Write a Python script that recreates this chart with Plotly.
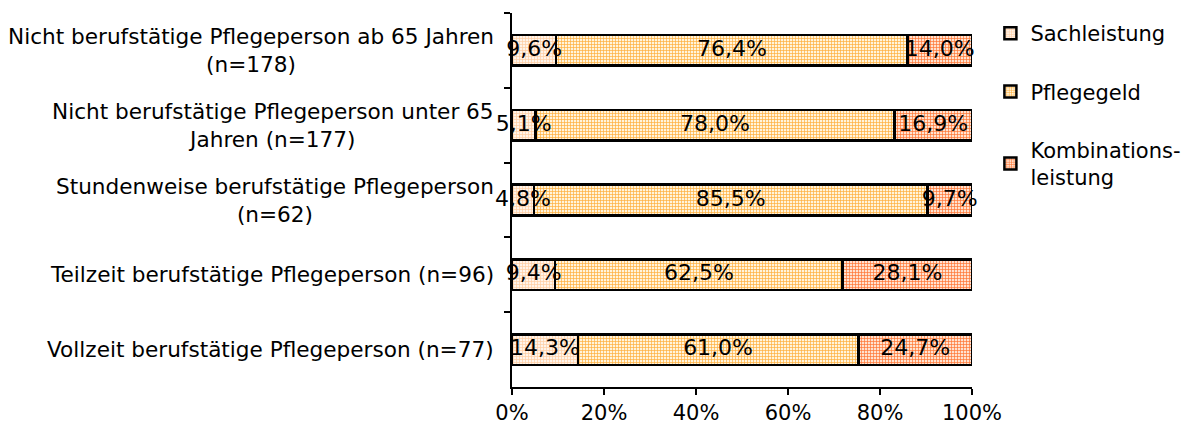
import plotly.graph_objects as go

categories = [
    "Nicht berufstätige Pflegeperson ab 65 Jahren<br>(n=178)",
    "Nicht berufstätige Pflegeperson unter 65<br>Jahren (n=177)",
    "Stundenweise berufstätige Pflegeperson<br>(n=62)",
    "Teilzeit berufstätige Pflegeperson (n=96)",
    "Vollzeit berufstätige Pflegeperson (n=77)",
]
sachleistung = [9.6, 5.1, 4.8, 9.4, 14.3]
pflegegeld = [76.4, 78.0, 85.5, 62.5, 61.0]
kombination = [14.0, 16.9, 9.7, 28.1, 24.7]
series_names = ["Sachleistung", "Pflegegeld", "Kombinations-<br>leistung"]
x_ticks = [0, 20, 40, 60, 80, 100]
x_ticktext = ["0%", "20%", "40%", "60%", "80%", "100%"]

FONT = "DejaVu Sans"
FS = 21

styles = [
    dict(bg="#FFF4EA", fg="#FFCDA0"),
    dict(bg="#FFF4DC", fg="#FFAE3A"),
    dict(bg="#FFE2D0", fg="#FF7430"),
]

def fmt(v):
    return f"{v:.1f}".replace(".", ",") + "%"

series = [sachleistung, pflegegeld, kombination]

fig = go.Figure()
for name, vals, st in zip(series_names, series, styles):
    fig.add_trace(go.Bar(
        y=categories, x=vals, orientation="h", name=name,
        marker=dict(color=st["bg"], line=dict(color="black", width=2.5),
                    pattern=dict(shape="+", fgcolor=st["fg"], bgcolor=st["bg"],
                                 size=3, solidity=0.4, fillmode="replace")),
        legendgroup=name,
    ))

# value labels on top of all bars (centred in each segment)
base = [0.0] * len(categories)
for vals in series:
    mids = [b + v / 2 for b, v in zip(base, vals)]
    fig.add_trace(go.Scatter(
        y=categories, x=mids, mode="text", text=[fmt(v) for v in vals],
        textposition="middle center", showlegend=False, hoverinfo="skip",
        textfont=dict(family=FONT, size=22, color="black"), cliponaxis=False,
    ))
    base = [b + v for b, v in zip(base, vals)]

for c in categories:
    fig.add_annotation(x=0, xref="paper", y=c, yref="y", text=c, showarrow=False,
                       xanchor="right", align="center", xshift=-16,
                       font=dict(family=FONT, size=21.6, color="black"))

fig.update_layout(
    width=1199, height=430,
    margin=dict(l=504, r=235, t=5, b=51),
    barmode="stack", bargap=0.59,
    plot_bgcolor="white", paper_bgcolor="white",
    font=dict(family=FONT, size=FS, color="black"),
    legend=dict(x=1.04, y=1.0, xanchor="left", yanchor="top",
                traceorder="grouped", tracegroupgap=28,
                font=dict(family=FONT, size=FS, color="black"),
                itemwidth=30, bgcolor="rgba(0,0,0,0)"),
    xaxis=dict(range=[0, 100], tickvals=x_ticks, ticktext=x_ticktext,
               showgrid=False, zeroline=False, showline=True, linecolor="black",
               linewidth=2, ticks="outside", ticklen=6, tickwidth=2, tickcolor="black",
               tickfont=dict(family=FONT, size=FS)),
    yaxis=dict(autorange="reversed", showticklabels=False, showgrid=False,
               showline=True, linecolor="black", linewidth=2,
               ticks="outside", tickson="boundaries", ticklen=6, tickwidth=2,
               tickcolor="black"),
)

fig.write_html("out.html")
